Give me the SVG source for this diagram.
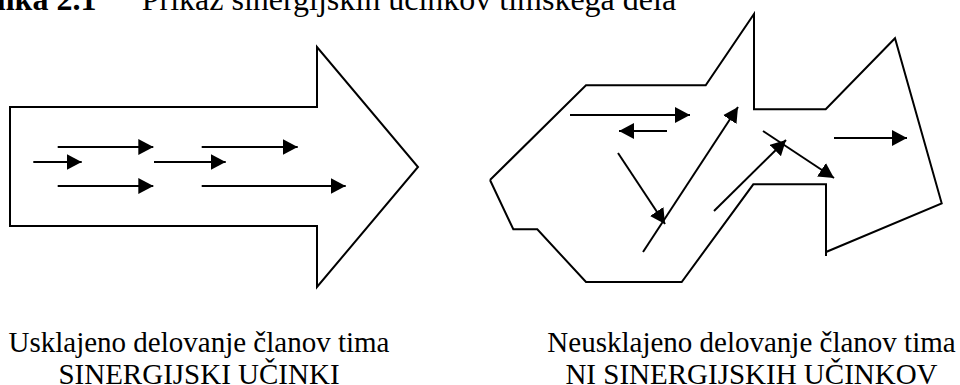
<svg xmlns="http://www.w3.org/2000/svg" width="960" height="385" viewBox="0 0 960 385">
<style>
.shape{fill:none;stroke:#000;stroke-width:2;stroke-linejoin:miter}
.arr{fill:none;stroke:#000;stroke-width:2;marker-end:url(#ah)}
.t{font-family:"Liberation Serif","Times New Roman",serif;fill:#000}
.cap{font-size:29px;text-anchor:middle}
</style>
<defs>
<marker id="ah" viewBox="0 0 15 16" refX="15" refY="8" markerWidth="15" markerHeight="16" markerUnits="userSpaceOnUse" orient="auto">
<path d="M0,0 L15,8 L0,16 z" fill="#000"/>
</marker>
</defs>
<g id="title">
<text class="t" x="-21" y="9.5" font-size="32" font-weight="bold">Slika 2.1</text>
<text class="t" x="141.7" y="9.5" font-size="32">Prikaz sinergijskih učinkov timskega dela</text>
</g>
<g id="node-left">
<polygon class="shape" points="10,107 317,107 317,47 418,167 317,287 317,226 10,226"/>
</g>
<g id="node-right">
<path class="shape" d="M490,180 L586,85.3 L705.7,85.3 L754,14 L754,109.3 L825.7,109.3 L895,38.3 L941.7,203.3 L826,252 M826,256 L826,184.3 L753.3,184.3 L681.7,282 L586,282 L537.3,229.3 L513.3,229.3 L490,180"/>
</g>
<g id="connectors">
<line class="arr" x1="57.7" y1="147" x2="153.3" y2="147"/>
<line class="arr" x1="201.7" y1="147" x2="297.7" y2="147"/>
<line class="arr" x1="33.3" y1="162" x2="81.7" y2="162"/>
<line class="arr" x1="154" y1="162" x2="225.7" y2="162"/>
<line class="arr" x1="57.7" y1="186" x2="153.3" y2="186"/>
<line class="arr" x1="201.7" y1="186" x2="345.7" y2="186"/>
<line class="arr" x1="570" y1="115" x2="690" y2="115"/>
<line class="arr" x1="667" y1="131" x2="619" y2="131"/>
<line class="arr" x1="618" y1="153" x2="665" y2="224"/>
<line class="arr" x1="643" y1="252" x2="738" y2="107"/>
<line class="arr" x1="714" y1="211" x2="786" y2="140"/>
<line class="arr" x1="763" y1="131" x2="834" y2="178"/>
<line class="arr" x1="834" y1="138" x2="907" y2="138"/>
</g>
<g id="label-left">
<text class="t cap" x="199" y="351.5">Usklajeno delovanje članov tima</text>
<text class="t cap" x="199" y="383.5">SINERGIJSKI UČINKI</text>
</g>
<g id="label-right">
<text class="t cap" x="751.5" y="351.5">Neusklajeno delovanje članov tima</text>
<text class="t cap" x="751.5" y="383.5">NI SINERGIJSKIH UČINKOV</text>
</g>
</svg>
